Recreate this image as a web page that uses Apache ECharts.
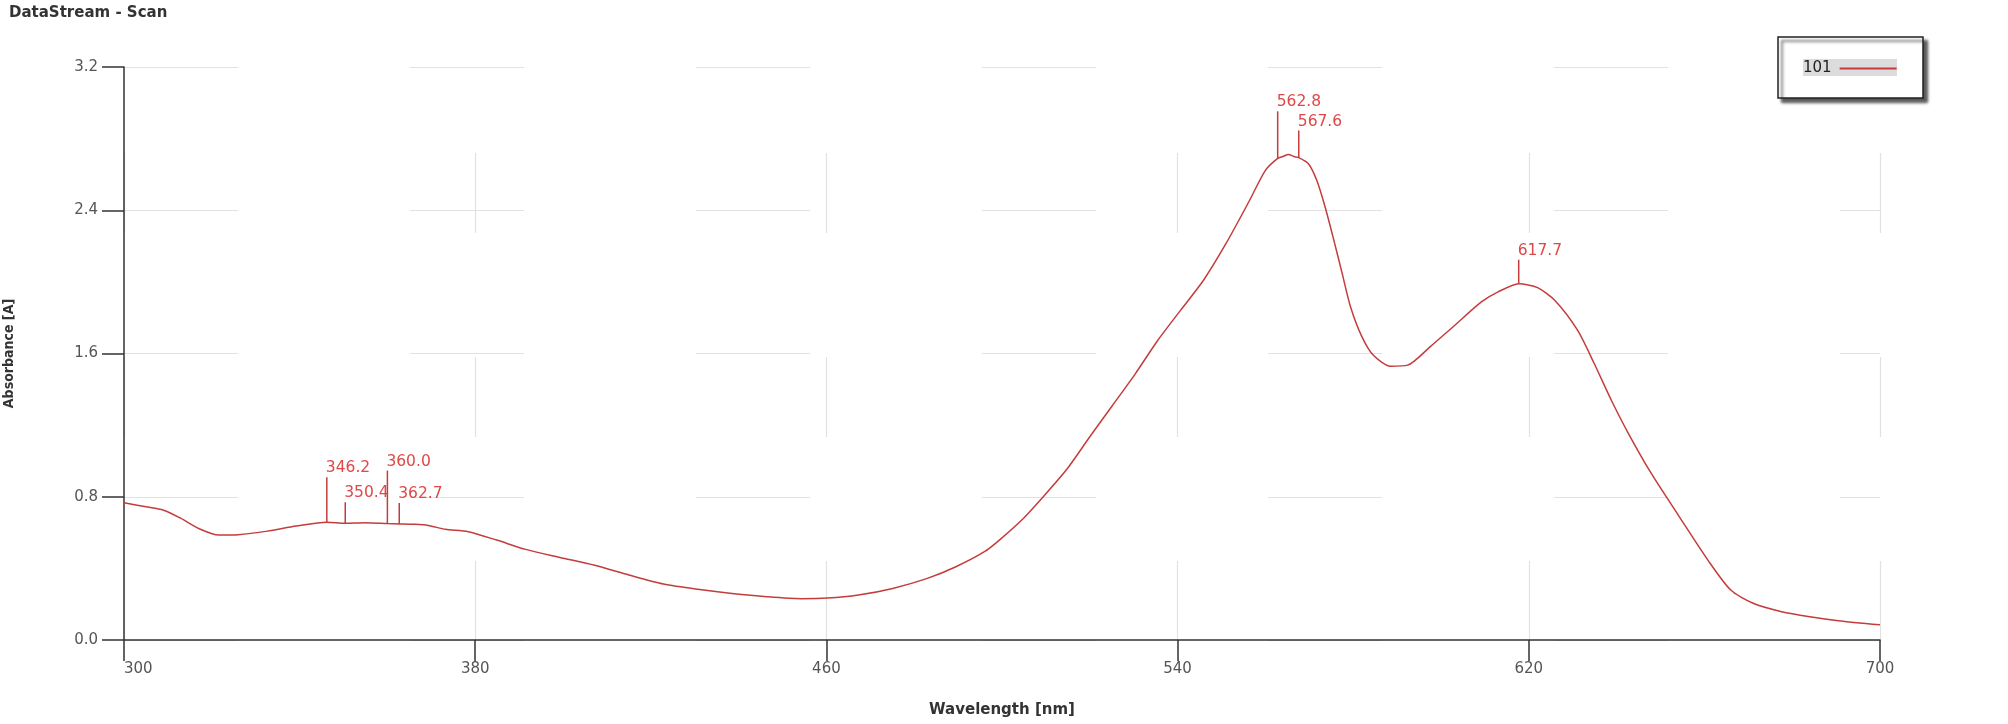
<!DOCTYPE html>
<html>
<head>
<meta charset="utf-8">
<script src="https://cdn.jsdelivr.net/npm/echarts@6/dist/echarts.min.js"></script>
<style>html,body{margin:0;padding:0;background:#fff}#c{width:2008px;height:724px}</style>
</head>
<body>
<div id="c"></div>
<script>
// ---- data ----
var wavelength = [300,305,309,313,317,321.6,326,332.7,339.2,346.2,350.4,355,360,362.7,366,369.3,373.2,378.4,384.9,391.5,399.3,407.2,415,422.9,430.7,438.5,446.4,454.2,460.2,467.3,475.1,483,489.5,496,499.4,504.5,509.7,514.9,520,525.2,530.4,535.5,540.7,545.9,551,556.2,560,562.8,564,565.2,566.5,567.6,569.8,571.7,573.6,575.6,577.5,579.4,582,584.6,588.5,592.4,597.5,602.7,609.2,613,617.7,622,625.9,631.1,634.9,638.8,642.7,647.9,654.3,660.8,666,671.1,677.6,684,690.5,700];
var absorbance = [0.766,0.744,0.725,0.679,0.623,0.586,0.588,0.608,0.636,0.658,0.652,0.655,0.650,0.648,0.646,0.640,0.618,0.605,0.558,0.506,0.461,0.417,0.363,0.3125,0.283,0.260,0.242,0.231,0.234,0.251,0.288,0.344,0.409,0.493,0.558,0.670,0.809,0.958,1.135,1.311,1.488,1.674,1.842,2.009,2.213,2.446,2.623,2.690,2.700,2.712,2.700,2.694,2.660,2.567,2.418,2.232,2.046,1.860,1.693,1.590,1.529,1.535,1.637,1.748,1.888,1.944,1.990,1.968,1.897,1.730,1.544,1.339,1.153,0.930,0.688,0.446,0.279,0.205,0.158,0.130,0.108,0.085];
var peakWavelength = [346.2,350.4,360.0,362.7,562.8,567.6,617.7];
var peakAbsorbance = [0.658,0.652,0.650,0.648,2.690,2.694,1.990];
var seriesName = '101';
var xTicks = [300,380,460,540,620,700];
var yTicks = [0.0,0.8,1.6,2.4,3.2];

// ---- styling (pixel lengths of peak marker stems) ----
var stemLength = [45,21,53,21,47,27,24];

var lineColor = '#c43c3c';
var peakTextColor = '#de4848';
var font = 'DejaVu Sans';

var chart = echarts.init(document.getElementById('c'), null, {renderer:'canvas'});

var curve = wavelength.map(function(w,i){ return [w, absorbance[i]]; });
var peaks = peakWavelength.map(function(w,i){ return [w, peakAbsorbance[i]]; });

var option = {
  animation: false,
  backgroundColor: '#ffffff',
  title: {
    text: 'DataStream - Scan',
    left: 4, top: 1,
    textStyle: {fontFamily: font, fontSize: 15, fontWeight: 'bold', color: '#333'}
  },
  graphic: [
    {type:'rect', z: 1, shape:{x:1778,y:37,width:145,height:61},
     style:{fill:'#fff', stroke:'#222', lineWidth:1.5, shadowColor:'rgba(0,0,0,0.65)', shadowOffsetX:4, shadowOffsetY:4, shadowBlur:3}},
    {type:'rect', z: 2, shape:{x:1803,y:59,width:94,height:17}, style:{fill:'#dcdcdc'}}
  ],
  legend: {
    data: [{name: seriesName, icon: 'rect'}],
    left: 1803, top: 60, padding: 0,
    itemWidth: 57, itemHeight: 2,
    align: 'right',
    z: 10,
    textStyle: {fontFamily: font, fontSize: 15, color: '#222', lineHeight: 17, padding:[0,3,0,0]}
  },
  grid: {left: 124, right: 128, top: 67, bottom: 84, containLabel: false, outerBoundsMode: 'none'},
  xAxis: {
    type: 'value', min: xTicks[0], max: xTicks[xTicks.length-1], interval: xTicks[1]-xTicks[0],
    name: 'Wavelength [nm]', nameLocation: 'middle', nameGap: 63,
    nameTextStyle: {fontFamily: font, fontSize: 15, fontWeight: 'bold', color: '#333'},
    axisLine: {lineStyle: {color: '#333', width: 1.5}},
    axisTick: {show: true, length: 21, lineStyle: {color: '#333', width: 1.5}},
    axisLabel: {margin: 22, fontFamily: font, fontSize: 15, color: '#555', alignMinLabel: 'left'},
    splitLine: {show: true, lineStyle: {color: '#e2e2e2', width: 1.2, type: [80,124], dashOffset: 118}}
  },
  yAxis: {
    type: 'value', min: yTicks[0], max: yTicks[yTicks.length-1], interval: yTicks[1]-yTicks[0],
    name: 'Absorbance [A]', nameLocation: 'middle', nameGap: 108, nameRotate: 90,
    nameTextStyle: {fontFamily: 'DejaVu Sans Condensed', fontSize: 14, fontWeight: 'bold', color: '#333'},
    axisLine: {show: true, lineStyle: {color: '#333', width: 1.5}},
    axisTick: {show: true, length: 22, lineStyle: {color: '#333', width: 1.5}},
    axisLabel: {margin: 26, fontFamily: font, fontSize: 15, color: '#555', formatter: function(v){ return v.toFixed(1); }},
    splitLine: {show: true, lineStyle: {color: '#e2e2e2', width: 1.2, type: [114,172], dashOffset: 0}}
  },
  series: [
    {
      name: seriesName, type: 'line', data: curve, showSymbol: false, symbol: 'none',
      smooth: 0.25, lineStyle: {color: lineColor, width: 1.5}, itemStyle: {color: lineColor}, z: 3
    },
    {
      name: 'peaks', type: 'custom', data: peaks, z: 4,
      renderItem: function(params, api){
        var p = api.coord([api.value(0), api.value(1)]);
        var len = stemLength[params.dataIndex];
        var label = api.value(0).toFixed(1);
        return {
          type: 'group',
          children: [
            {type:'line', shape:{x1:p[0], y1:p[1], x2:p[0], y2:p[1]-len}, style:{stroke:lineColor, lineWidth:1.5}},
            {type:'text', style:{text: label, x: p[0]-1, y: p[1]-len-1, textAlign:'left', textVerticalAlign:'bottom',
              fill: peakTextColor, font: '15.5px "DejaVu Sans"'}}
          ]
        };
      }
    }
  ]
};
chart.setOption(option);
</script>
</body>
</html>
